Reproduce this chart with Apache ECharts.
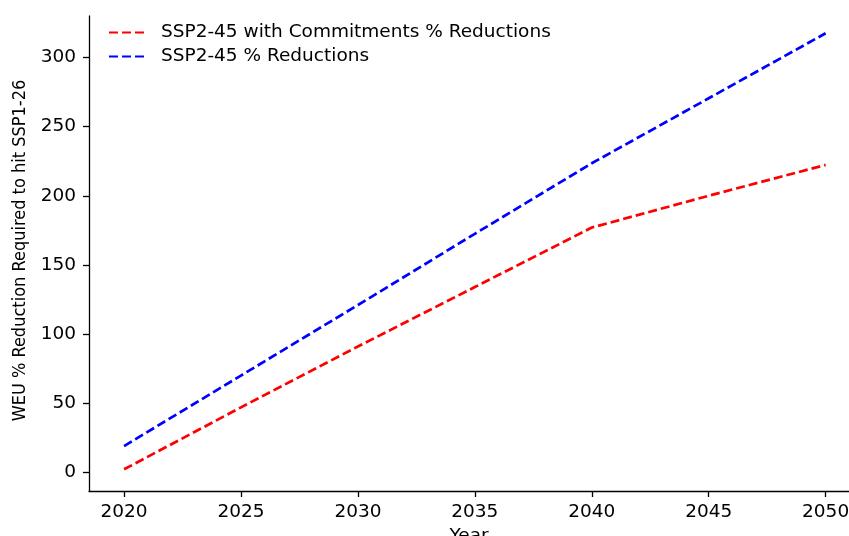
<!DOCTYPE html>
<html>
<head>
<meta charset="utf-8">
<script src="https://cdn.jsdelivr.net/npm/echarts@6/dist/echarts.min.js"></script>
<style>html,body{margin:0;padding:0;background:#fff}#c{width:849px;height:536px}</style>
</head>
<body>
<div id="c"></div>
<script>
const years = [2020, 2025, 2030, 2035, 2040, 2045, 2050];
const commitReductions = [2.2, 47, 91, 134, 177, 200, 222.3];
const ssp245Reductions = [19, 70, 121, 172.5, 223.5, 270.5, 317.5];
const xTicks = [2020, 2025, 2030, 2035, 2040, 2045, 2050];
const yTicks = [0, 50, 100, 150, 200, 250, 300];
const seriesNames = ['SSP2-45 with Commitments % Reductions', 'SSP2-45 % Reductions'];

const font = 'DejaVu Sans';
const chart = echarts.init(document.getElementById('c'), null, {renderer: 'canvas'});
const pair = (xs, ys) => xs.map((x, i) => [x, ys[i]]);
chart.setOption({
  animation: false,
  backgroundColor: '#fff',
  grid: {left: 89, right: 0, top: 16, bottom: 45, containLabel: false, outerBoundsMode: 'none'},
  legend: {
    orient: 'vertical', left: 103, top: 18, itemWidth: 39, itemHeight: 14, itemGap: 5,
    itemStyle: {opacity: 0},
    textStyle: {fontFamily: font, fontSize: 18.5, color: '#000', padding: [0, 0, 0, 8]},
    data: seriesNames.map(n => ({name: n}))
  },
  xAxis: {
    type: 'value', min: 2018.5, max: 2051,
    name: 'Year', nameLocation: 'middle', nameGap: 30,
    nameTextStyle: {fontFamily: font, fontSize: 18.5, color: '#000', verticalAlign: 'top'},
    axisLine: {show: true, onZero: false, lineStyle: {color: '#000', width: 1.3}},
    axisTick: {show: true, length: 6, customValues: xTicks, lineStyle: {color: '#000', width: 1.3}},
    axisLabel: {customValues: xTicks, margin: 12, fontFamily: font, fontSize: 18.5, color: '#000', formatter: v => String(v)},
    splitLine: {show: false}
  },
  yAxis: {
    type: 'value', min: -13.5, max: 330,
    name: 'WEU % Reduction Required to hit SSP1-26', nameLocation: 'middle', nameGap: 60, nameRotate: 90,
    nameTextStyle: {fontFamily: 'DejaVu Sans Condensed', fontSize: 18, color: '#000', padding: [0, 0, 0, 6]},
    axisLine: {show: true, onZero: false, lineStyle: {color: '#000', width: 1.3}},
    axisTick: {show: true, length: 6, customValues: yTicks, lineStyle: {color: '#000', width: 1.3}},
    axisLabel: {customValues: yTicks, margin: 13, fontFamily: font, fontSize: 18.5, color: '#000'},
    splitLine: {show: false}
  },
  series: [
    {name: seriesNames[0], type: 'line', data: pair(years, commitReductions), showSymbol: false, symbol: 'none',
     lineStyle: {color: '#ff0000', width: 2.7, type: [9, 4]}, itemStyle: {color: '#ff0000'}},
    {name: seriesNames[1], type: 'line', data: pair(years, ssp245Reductions), showSymbol: false, symbol: 'none',
     lineStyle: {color: '#0000ff', width: 2.7, type: [9, 4]}, itemStyle: {color: '#0000ff'}}
  ]
});
</script>
</body>
</html>
